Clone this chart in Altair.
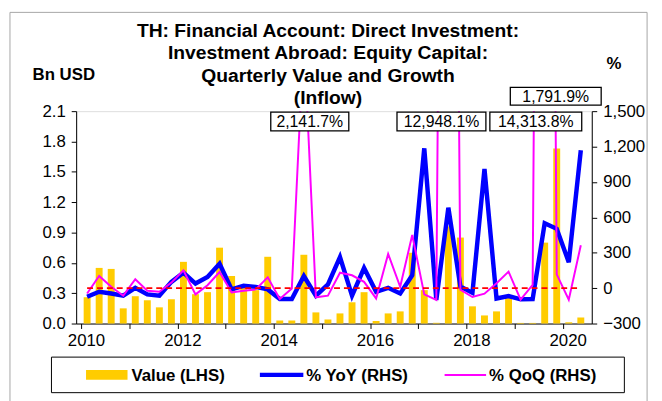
import altair as alt
import pandas as pd

# ---------------- data ----------------
quarters = [f"{y}Q{q}" for y in range(2010, 2021) for q in range(1, 5)][:42]

value_bn = [0.26, 0.55, 0.54, 0.15, 0.27, 0.23, 0.16, 0.24, 0.61, 0.29,
            0.31, 0.75, 0.47, 0.37, 0.33, 0.66, 0.03, 0.03, 0.68, 0.11,
            0.04, 0.10, 0.21, 0.31, 0.025, 0.10, 0.12, 0.70, 0.33, 0.007,
            0.96, 0.85, 0.17, 0.08, 0.12, 0.28, 0.006, 0.006, 0.80, 1.73,
            0.012, 0.06]

yoy_pct = [-73, -31, -45, -64, 3, -53, -64, 53, 131, 39,
           95, 207, -11, 20, 11, -11, -92, -92, 103, -64,
           31, 263, -64, 170, -31, 3, -45, 109, 1185, -100,
           682, 13, -40, 1010, -88, -67, -95, -93, 550, 503,
           220, 1168]

qoq_pct = [-45, 103, 11, -64, 75, -22, -31, 47, 151, -53,
           25, 137, -36, -22, -11, 92, -92, -3, 2141.7, -78,
           -64, 131, 109, 53, -87, 290, 11, 450, -53, -100,
           12948.1, -14, -75, -47, 42, 140, -98, 28, 14313.8, 117,
           -98, 363]

left_ticks = [0.0, 0.3, 0.6, 0.9, 1.2, 1.5, 1.8, 2.1]
right_ticks = [-300, 0, 300, 600, 900, 1200, 1500]
year_ticks = list(range(2010, 2021))

title_lines = ["TH: Financial Account: Direct Investment:",
               "Investment Abroad: Equity Capital:",
               "Quarterly Value and Growth",
               "(Inflow)"]

ann_labels = ["2,141.7%", "12,948.1%", "14,313.8%", "1,791.9%"]
ann_quarters = ["2014Q3", "2017Q3", "2019Q3", "2019Q4"]

# ---------------- styles ----------------
FONT = "Liberation Sans"
YELLOW, BLUE, PINK, RED = "#FFCC00", "#0000FF", "#FF00FF", "#FF0000"
# (box width, top offset, bottom offset, x shift) per annotation
ann_style = [(79, 1, 20, 6), (90, 1, 20, -7), (93, 1, 20, -9), (92, -24, -6, -1)]

pos = [int(q[:4]) + (int(q[-1]) - 1) / 4 + 0.125 for q in quarters]
df = pd.DataFrame({"quarter": quarters, "t": pos, "value": value_bn,
                   "yoy": yoy_pct, "qoq": qoq_pct})

W, H = 522, 215

x_scale = alt.Scale(domain=[2010, 2020.5], nice=False, zero=False)
x_enc = alt.X("t:Q", scale=x_scale,
              axis=alt.Axis(values=year_ticks, format="d",
                            labelExpr="datum.value % 2 == 0 ? datum.label : ''",
                            grid=False, domainColor="black", tickColor="black",
                            tickSize=5, labelFontSize=17, labelFont=FONT,
                            labelColor="black", labelPadding=4, labelOffset=5,
                            labelFlush=False),
              title=None)

left_scale = alt.Scale(domain=[0, 2.1], nice=False, zero=True)
right_scale = alt.Scale(domain=[-300, 1500], nice=False, zero=False)

right_axis = alt.Axis(orient="right", values=right_ticks, format=",d",
                      grid=False, domainColor="black", tickColor="black",
                      tickSize=5, labelFontSize=17, labelFont=FONT,
                      labelColor="black", labelPadding=6,
                      title="%", titleAngle=0, titleFont=FONT,
                      titleFontSize=17, titleFontWeight="bold",
                      titleColor="black", titleX=22, titleY=-48,
                      titleAlign="center", titleBaseline="middle")

bars = alt.Chart(df).mark_bar(color=YELLOW, size=7).encode(
    x=x_enc,
    y=alt.Y("value:Q", scale=left_scale,
            axis=alt.Axis(orient="left", values=left_ticks, format=".1f",
                          grid=False, domainColor="black", tickColor="black",
                          tickSize=5, labelFontSize=17, labelFont=FONT,
                          labelColor="black", labelPadding=6,
                          title="Bn USD", titleAngle=0, titleFont=FONT,
                          titleFontSize=17, titleFontWeight="bold",
                          titleColor="black", titleX=-13, titleY=-37,
                          titleAlign="center", titleBaseline="middle")),
)

yoy_line = alt.Chart(df).mark_line(color=BLUE, strokeWidth=4.5, clip=True).encode(
    x=x_enc,
    y=alt.Y("yoy:Q", scale=right_scale, axis=right_axis, title="%"),
)

qoq_line = alt.Chart(df).mark_line(color=PINK, strokeWidth=2, clip=True).encode(
    x=x_enc,
    y=alt.Y("qoq:Q", scale=right_scale, axis=right_axis, title="%"),
)

zero_rule = alt.Chart(df).mark_rule(color=RED, strokeDash=[6, 4], strokeWidth=2).encode(
    x=alt.X("min(t):Q", scale=x_scale),
    x2="max(t):Q",
    y=alt.YDatum(0, scale=right_scale, axis=right_axis, title="%"),
)

ann_layers = []
for lab, q, (bw, top, bot, dx) in zip(ann_labels, ann_quarters, ann_style):
    adf = pd.DataFrame({"t": [pos[quarters.index(q)]], "label": [lab]})
    box = alt.Chart(adf).mark_rect(fill="white", stroke="black", strokeWidth=1.3,
                                   xOffset=dx - bw / 2, x2Offset=dx + bw / 2,
                                   yOffset=top, y2Offset=bot).encode(
        x=alt.X("t:Q", scale=x_scale), x2="t:Q",
        y=alt.YDatum(1500, scale=right_scale, axis=right_axis, title="%"),
        y2=alt.Y2Datum(1500),
    )
    txt = alt.Chart(adf).mark_text(font=FONT, fontSize=16, color="black",
                                   dx=dx, dy=(top + bot) / 2 + 1,
                                   baseline="middle", align="center").encode(
        x=alt.X("t:Q", scale=x_scale),
        y=alt.YDatum(1500, scale=right_scale, axis=right_axis, title="%"),
        text="label:N",
    )
    ann_layers += [box, txt]

right_layer = alt.layer(yoy_line, qoq_line, zero_rule, *ann_layers)

# ---------------- decorations: frame, title, legend ----------------
one = pd.DataFrame({"a": [0]})
frame = alt.Chart(one).mark_rect(fillOpacity=0, stroke="#A6A6A6", strokeWidth=1).encode(
    x=alt.value(-67), x2=alt.value(578), y=alt.value(-100), y2=alt.value(300))

title = alt.Chart(one).mark_text(font=FONT, fontSize=19.5, fontWeight="bold",
                                 color="black", align="center",
                                 baseline="alphabetic", lineHeight=22.5).encode(
    x=alt.value(255), y=alt.value(-75), text=alt.value(title_lines))

leg_box = alt.Chart(one).mark_rect(fill="white", stroke="black", strokeWidth=1).encode(
    x=alt.value(-25), x2=alt.value(555), y=alt.value(249), y2=alt.value(285))
leg_sw = alt.Chart(one).mark_rect(color=YELLOW).encode(
    x=alt.value(10), x2=alt.value(52), y=alt.value(262), y2=alt.value(272))
leg_blue = alt.Chart(one).mark_rule(color=BLUE, strokeWidth=4.5).encode(
    x=alt.value(186), x2=alt.value(230), y=alt.value(267))
leg_pink = alt.Chart(one).mark_rule(color=PINK, strokeWidth=2).encode(
    x=alt.value(373), x2=alt.value(415), y=alt.value(267))

def leg_text(px, s):
    return alt.Chart(one).mark_text(font=FONT, fontSize=17, fontWeight="bold",
                                    align="left", baseline="middle",
                                    color="black").encode(
        x=alt.value(px), y=alt.value(268), text=alt.value(s))

legend = [leg_box, leg_sw, leg_blue, leg_pink,
          leg_text(56, "Value (LHS)"), leg_text(233, "% YoY (RHS)"),
          leg_text(418, "% QoQ (RHS)")]

chart = alt.layer(frame, title, bars, right_layer, *legend).resolve_scale(
    y="independent"
).properties(
    width=W, height=H,
    padding={"left": 69, "top": 102, "right": 63, "bottom": 76},
    autosize=alt.AutoSizeParams(type="none"),
).configure_view(stroke=None).configure(background="white")

chart.save("out.html", embed_options={"renderer": "svg", "actions": False})
